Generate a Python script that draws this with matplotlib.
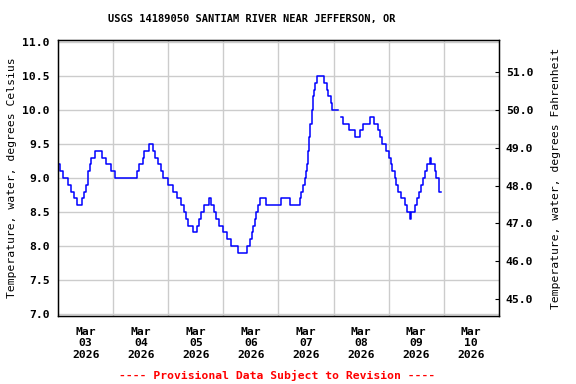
import numpy as np
import pandas as pd
import matplotlib
matplotlib.use("Agg")
import matplotlib.pyplot as plt

# step changes of the 15-minute record: hours after 2026-03-03 00:00, deg C
hours = [0.0, 0.7, 1.9, 4.1, 5.5, 7.0, 8.4, 10.3, 11.3, 12.1, 12.8, 13.2,
         13.8, 14.4, 16.1, 19.0, 20.8, 23.0, 24.8, 34.3, 35.3, 37.0, 37.5,
         39.6, 41.4, 42.3, 43.3, 44.7, 45.7, 47.7, 50.1, 51.8, 53.4, 54.9,
         55.5, 56.6, 58.8, 60.5, 61.4, 62.4, 63.6, 65.8, 66.5, 68.0, 68.6,
         70.0, 72.0, 73.4, 75.5, 78.4, 82.2, 83.6, 84.5, 85.0, 85.6, 86.3,
         87.0, 87.9, 90.5, 97.3, 100.9, 105.4, 106.0, 106.8, 107.5, 108.0,
         108.5, 108.9, 109.4, 109.9, 110.4, 110.9, 111.5, 111.9, 112.6,
         115.9, 117.0, 117.7, 118.7, 119.5, 122.0, 123.2, 124.2, 126.6,
         129.2, 131.7, 132.7, 135.8, 137.5, 139.4, 140.1, 140.9, 142.8,
         144.0, 145.0, 145.5, 146.7, 147.4, 148.1, 149.3, 151.0, 152.2,
         153.2, 153.9, 155.4, 156.5, 157.3, 158.0, 159.0, 160.0, 160.7,
         162.2, 162.5, 164.1, 164.8, 165.8, 166.1, 166.6]
temp_c = [9.2, 9.1, 9.0, 8.9, 8.8, 8.7, 8.6, 8.7, 8.8, 8.9, 9.0, 9.1,
          9.2, 9.3, 9.4, 9.3, 9.2, 9.1, 9.0, 9.1, 9.2, 9.3, 9.4,
          9.5, 9.4, 9.3, 9.2, 9.1, 9.0, 8.9, 8.8, 8.7, 8.6, 8.5,
          8.4, 8.3, 8.2, 8.3, 8.4, 8.5, 8.6, 8.7, 8.6, 8.5, 8.4,
          8.3, 8.2, 8.1, 8.0, 7.9, 8.0, 8.1, 8.2, 8.3, 8.4, 8.5,
          8.6, 8.7, 8.6, 8.7, 8.6, 8.7, 8.8, 8.9, 9.0, 9.1,
          9.2, 9.4, 9.6, 9.8, 10.0, 10.2, 10.3, 10.4, 10.5,
          10.4, 10.3, 10.2, 10.1, 10.0, np.nan, 9.9, 9.8, 9.7,
          9.6, 9.7, 9.8, 9.9, 9.8, 9.7, 9.6, 9.5, 9.4,
          9.3, 9.2, 9.1, 9.0, 8.9, 8.8, 8.7, 8.6, 8.5,
          8.4, 8.5, 8.6, 8.7, 8.8, 8.9, 9.0, 9.1, 9.2,
          9.3, 9.2, 9.1, 9.0, 8.9, 8.8, 8.8]

start = pd.Timestamp("2026-03-03")
times = start + pd.to_timedelta(hours, unit="h")

plt.rcParams['font.family'] = ['DejaVu Sans Mono']
plt.rcParams['font.weight'] = 'bold'
fs = 8.2

fig = plt.figure(figsize=(5.76, 3.84), dpi=100)
ax = fig.add_axes([0.101, 0.177, 0.765, 0.719])  # llx, lly, w, h

ax.plot(times, temp_c, color='#0000ff', lw=1.1, drawstyle='steps-post')

ax.set_xlim(start, start + pd.Timedelta(days=8))
ax.set_ylim(6.97, 11.03)
ax.set_yticks(np.arange(7.0, 11.01, 0.5))
ax.set_yticklabels(['%.1f' % v for v in np.arange(7.0, 11.01, 0.5)],
                   fontsize=fs)
ax.tick_params(axis='y', length=0, pad=6)

days = pd.date_range(start, periods=8, freq='D')
ax.set_xticks(days + pd.Timedelta(hours=12))
ax.set_xticklabels([d.strftime('Mar\n%d\n%Y') for d in days], fontsize=fs,
                   linespacing=1.15)
ax.set_xticks(pd.date_range(start, periods=9, freq='D')[1:-1], minor=True)
ax.tick_params(axis='x', which='both', length=0, pad=8)
ax.grid(True, which='minor', axis='x', color='#cccccc', lw=1)
ax.grid(True, which='major', axis='y', color='#cccccc', lw=1)
ax.set_axisbelow(True)
ax.set_ylabel('Temperature, water, degrees Celsius', fontsize=fs, labelpad=4)
for s in ax.spines.values():
    s.set_linewidth(1.0)

axr = ax.twinx()
lo, hi = ax.get_ylim()
axr.set_ylim(lo * 1.8 + 32, hi * 1.8 + 32)
axr.set_yticks(np.arange(45.0, 51.01, 1.0))
axr.set_yticklabels(['%.1f' % v for v in np.arange(45.0, 51.01, 1.0)],
                    fontsize=fs)
axr.tick_params(axis='y', direction='in', length=3, pad=5)
axr.set_ylabel('Temperature, water, degrees Fahrenheit', fontsize=fs,
               labelpad=13)

fig.text(0.437, 0.951, 'USGS 14189050 SANTIAM RIVER NEAR JEFFERSON, OR',
         ha='center', va='center', fontsize=7.5)
fig.text(0.481, 0.023, '---- Provisional Data Subject to Revision ----',
         ha='center', va='center', fontsize=fs, color='red')

fig.savefig('out.png', dpi=100)
